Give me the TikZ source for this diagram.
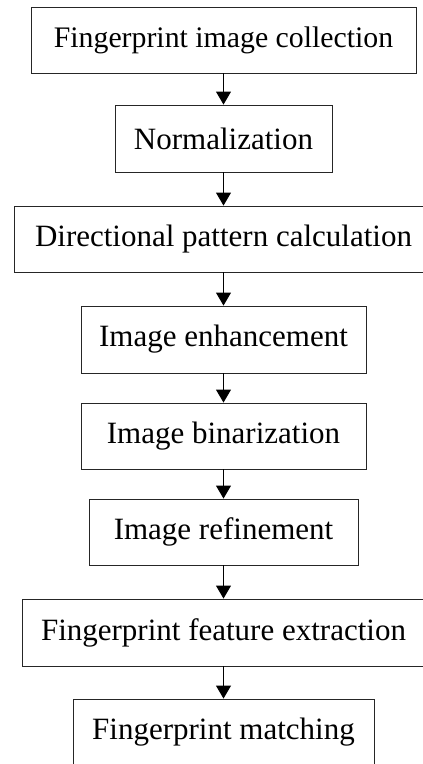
\documentclass[tikz,border=0pt]{standalone}
\usepackage{fontspec}
\setmainfont{Liberation Serif}
\usetikzlibrary{arrows.meta}
\begin{document}
\begin{tikzpicture}[x=1pt,y=-1pt,
  stepbox/.style={draw=black!85,line width=0.9pt,inner sep=0pt,minimum height=66pt,
     font=\fontsize{31}{36}\selectfont},
  flow/.style={draw=black,line width=0.9pt,-{Triangle[width=15pt,length=13pt]}}]
\useasboundingbox (0,0) rectangle (423,764);
\begin{scope}
\clip (0,0) rectangle (423,764);
\node[stepbox,minimum width=385pt,font=\fontsize{29.8}{35}\selectfont] (b1) at (223.5,40) {Fingerprint image collection};
\node[stepbox,minimum width=217pt,minimum height=67pt] (b2) at (223.5,138.5) {Normalization};
\node[stepbox,minimum width=418pt] (b3) at (223.5,239) {Directional pattern calculation};
\node[stepbox,minimum width=285pt,minimum height=67pt] (b4) at (223.5,339.5) {Image enhancement};
\node[stepbox,minimum width=285pt] (b5) at (223.5,436) {Image binarization};
\node[stepbox,minimum width=269pt] (b6) at (223.5,532) {Image refinement};
\node[stepbox,minimum width=403pt,minimum height=67pt] (b7) at (223.5,632.5) {Fingerprint feature extraction};
\node[stepbox,minimum width=301pt] (b8) at (223.5,732) {Fingerprint matching};
\end{scope}
\draw[flow] (b1) -- (b2);
\draw[flow] (b2) -- (b3);
\draw[flow] (b3) -- (b4);
\draw[flow] (b4) -- (b5);
\draw[flow] (b5) -- (b6);
\draw[flow] (b6) -- (b7);
\draw[flow] (b7) -- (b8);
\end{tikzpicture}
\end{document}
